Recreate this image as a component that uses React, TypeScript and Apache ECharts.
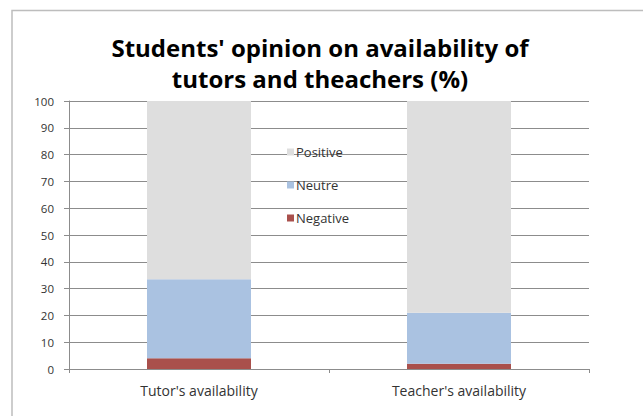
import React, { useEffect, useRef } from "react";
import * as echarts from "echarts";

const categories = ["Tutor's availability", "Teacher's availability"];
const negative = [4, 2];
const neutre = [29.5, 19];
const positive = [66.5, 79];
const yTicks = [0, 10, 20, 30, 40, 50, 60, 70, 80, 90, 100];

export default function App() {
  const ref = useRef<HTMLDivElement>(null);
  useEffect(() => {
    if (!ref.current) return;
    const chart = echarts.init(ref.current, null, { renderer: "svg" });
    const font = "'Open Sans', Lato, sans-serif";
    chart.setOption({
      animation: false,
      backgroundColor: "#ffffff",
      title: {
        text: "Students' opinion on availability of\ntutors and theachers (%)",
        left: 320,
        textAlign: "center",
        top: 32,
        padding: 0,
        textStyle: {
          fontFamily: font,
          fontWeight: "bold",
          fontSize: 24,
          lineHeight: 31,
          color: "#000000",
        },
      },
      graphic: [
        {
          type: "rect",
          shape: { x: 12, y: 10.5, width: 700, height: 500 },
          style: { fill: "none", stroke: "#bdbdbd", lineWidth: 1.5 },
          silent: true,
        },
      ],
      legend: {
        orient: "vertical",
        left: 287,
        top: 145,
        padding: 0,
        itemGap: 19,
        itemWidth: 7,
        itemHeight: 7,
        icon: "rect",
        data: ["Positive", "Neutre", "Negative"],
        textStyle: {
          fontFamily: font,
          fontSize: 13,
          lineHeight: 14,
          color: "#333333",
          padding: [0, 0, 0, -3],
        },
      },
      grid: { left: 69, right: 54, top: 101, bottom: 47 },
      xAxis: {
        type: "category",
        data: categories,
        axisLine: { lineStyle: { color: "#8c8c8c", width: 1 } },
        axisTick: { show: true, alignWithLabel: false, length: 4, lineStyle: { color: "#8c8c8c" } },
        axisLabel: { fontFamily: font, fontSize: 14, color: "#333333", margin: 14 },
      },
      yAxis: {
        type: "value",
        min: 0,
        max: 100,
        interval: 10,
        axisLine: { show: true, lineStyle: { color: "#8c8c8c", width: 1 } },
        axisTick: { show: true, length: 5, lineStyle: { color: "#8c8c8c" } },
        splitLine: { show: true, lineStyle: { color: "#8c8c8c", width: 1 } },
        axisLabel: {
          fontFamily: font,
          fontSize: 11.5,
          color: "#333333",
          margin: 15,
          formatter: (v: number) => (yTicks.includes(v) ? String(v) : ""),
        },
      },
      series: [
        {
          name: "Negative",
          type: "bar",
          stack: "s",
          data: negative,
          barWidth: "40%",
          itemStyle: { color: "#a9504c" },
        },
        {
          name: "Neutre",
          type: "bar",
          stack: "s",
          data: neutre,
          barWidth: "40%",
          itemStyle: { color: "#aac2e1" },
        },
        {
          name: "Positive",
          type: "bar",
          stack: "s",
          data: positive,
          barWidth: "40%",
          itemStyle: { color: "#dedede" },
        },
      ],
    });
    return () => chart.dispose();
  }, []);
  return (
    <div
      ref={ref}
      style={{ position: "fixed", left: 0, top: 0, width: 643, height: 416 }}
    />
  );
}
